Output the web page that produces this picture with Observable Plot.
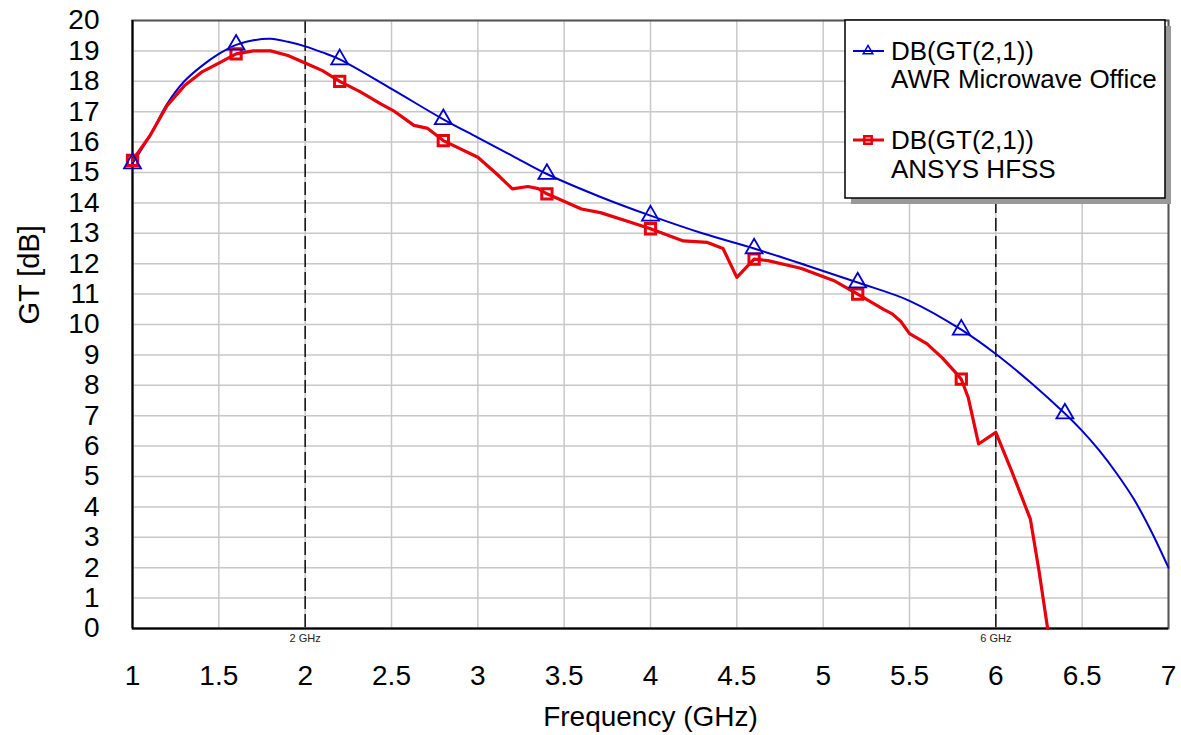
<!DOCTYPE html>
<html><head><meta charset="utf-8">
<script src="https://cdn.jsdelivr.net/npm/d3@7"></script>
<script src="https://cdn.jsdelivr.net/npm/@observablehq/plot@0.6"></script>
<style>body{margin:0;background:#fff;} svg{display:block}</style>
</head><body><div id="chart"></div>
<script>
// ---- data ----
const freqAWR = [1.0,1.1,1.2,1.3,1.4,1.5,1.6,1.7,1.8,1.9,2.0,2.1,2.2,2.5,2.8,3.0,3.2,3.4,3.7,4.0,4.3,4.6,4.9,5.2,5.5,5.8,6.0,6.2,6.4,6.5,6.6,6.7,6.8,6.9,7.0];
const gtAWR   = [15.3,16.2,17.25,18.0,18.5,18.9,19.2,19.35,19.4,19.3,19.15,18.95,18.72,17.75,16.75,16.15,15.55,14.95,14.22,13.58,13.0,12.5,11.95,11.38,10.78,9.83,9.03,8.1,7.07,6.5,5.85,5.1,4.25,3.2,2.0];
const freqHFSS = [1.0,1.1,1.2,1.3,1.4,1.5,1.6,1.7,1.8,1.9,2.0,2.1,2.2,2.32,2.44,2.52,2.63,2.71,2.8,3.0,3.11,3.2,3.29,3.35,3.4,3.6,3.71,3.88,4.0,4.19,4.33,4.42,4.5,4.6,4.68,4.87,5.06,5.2,5.35,5.4,5.45,5.5,5.6,5.69,5.77,5.8,5.84,5.9,6.0,6.09,6.2,6.25,6.3];
const gtHFSS   = [15.4,16.2,17.2,17.85,18.3,18.6,18.9,19.0,19.0,18.85,18.6,18.35,18.0,17.65,17.25,17.0,16.55,16.45,16.05,15.5,14.95,14.46,14.54,14.47,14.3,13.8,13.68,13.37,13.15,12.75,12.7,12.5,11.55,12.15,12.1,11.85,11.45,11.0,10.5,10.35,10.1,9.7,9.37,8.9,8.4,8.2,7.6,6.07,6.45,5.2,3.6,1.9,0];
const markerFreqAWR  = [1.0,1.6,2.2,2.8,3.4,4.0,4.6,5.2,5.8,6.4];
const markerFreqHFSS = [1.0,1.6,2.2,2.8,3.4,4.0,4.6,5.2,5.8];
const xTicks = [1,1.5,2,2.5,3,3.5,4,4.5,5,5.5,6,6.5,7];
const yTicks = d3.range(0, 21, 1);
const markerLines = [2, 6];
const legendLabels = [["DB(GT(2,1))","AWR Microwave Office"],["DB(GT(2,1))","ANSYS HFSS"]];
const BLUE = "#0000cc", RED = "#e8000a";

const awr = freqAWR.map((f,i)=>({f, g: gtAWR[i]}));
const hfss = freqHFSS.map((f,i)=>({f, g: gtHFSS[i]}));
const awrM = awr.filter(d => markerFreqAWR.includes(d.f));
const hfssM = hfss.filter(d => markerFreqHFSS.includes(d.f));

const FONT = "'Liberation Sans', Arial, Helvetica, sans-serif";
const chart = Plot.plot({
  width: 1181, height: 735,
  marginLeft: 132, marginRight: 13, marginTop: 20, marginBottom: 107,
  style: {fontFamily: FONT, background: "#fff", color: "#000"},
  x: {domain: [1, 7]},
  y: {domain: [0, 20]},
  marks: [
    Plot.gridX(xTicks, {stroke: "#c8c8c8", strokeOpacity: 1, strokeWidth: 1.5}),
    Plot.gridY(yTicks, {stroke: "#c8c8c8", strokeOpacity: 1, strokeWidth: 1.5}),
    Plot.ruleX(markerLines, {stroke: "#000", strokeWidth: 1.4, strokeDasharray: "13,5"}),
    Plot.frame({stroke: "#555", strokeWidth: 2}),
    Plot.ruleX([1], {stroke: "#000", strokeWidth: 2}),
    Plot.ruleY([0], {stroke: "#000", strokeWidth: 2}),
    Plot.axisX(xTicks, {tickSize: 0, tickPadding: 37, fontSize: 28, tickFormat: d => String(d), label: null}),
    Plot.axisY(yTicks, {tickSize: 0, tickPadding: 33, fontSize: 28, tickFormat: d => String(d), label: null}),
    Plot.text(markerLines, {x: d => d, text: d => `${d} GHz`, frameAnchor: "bottom", dy: 10, fontSize: 11, lineAnchor: "middle", fill: "#222"}),
    Plot.text(["Frequency (GHz)"], {text: d => d, frameAnchor: "bottom", dy: 89, fontSize: 28, lineAnchor: "middle"}),
    Plot.text(["GT [dB]"], {text: d => d, frameAnchor: "left", dx: -103, rotate: -90, fontSize: 29, lineAnchor: "middle"}),
    Plot.line(awr, {x: "f", y: "g", stroke: BLUE, strokeWidth: 2, curve: "catmull-rom"}),
    Plot.line(hfss, {x: "f", y: "g", stroke: RED, strokeWidth: 3.2, curve: "linear"}),
    Plot.dot(hfssM, {x: "f", y: "g", symbol: "square", r: 5.8, stroke: RED, strokeWidth: 3, fill: "none"}),
    Plot.dot(awrM, {x: "f", y: "g", symbol: "triangle", r: 6.3, stroke: BLUE, strokeWidth: 1.8, fill: "none"})
  ]
});
document.getElementById("chart").appendChild(chart);

// ---- legend (inside plot area, top-right) ----
const svg = d3.select(chart);
const lg = svg.append("g").attr("font-family", FONT).attr("text-anchor", "start");
lg.append("rect").attr("x", 851).attr("y", 26).attr("width", 320).attr("height", 178).attr("fill", "#999");
lg.append("rect").attr("x", 845).attr("y", 20).attr("width", 320).attr("height", 178)
  .attr("fill", "#fff").attr("stroke", "#000").attr("stroke-width", 1.5);
const rows = [{cy: 51, color: BLUE, sym: d3.symbolTriangle, size: 40, sw: 2, msw: 1.5, b2: 88},
              {cy: 140, color: RED, sym: d3.symbolSquare, size: 55, sw: 3, msw: 2.5, b2: 178}];
rows.forEach((r, i) => {
  lg.append("line").attr("x1", 853).attr("x2", 884).attr("y1", r.cy).attr("y2", r.cy)
    .attr("stroke", r.color).attr("stroke-width", r.sw);
  lg.append("path").attr("d", d3.symbol(r.sym, r.size)()).attr("transform", `translate(868,${r.cy})`)
    .attr("fill", "none").attr("stroke", r.color).attr("stroke-width", r.msw);
  lg.append("text").attr("x", 891).attr("y", r.cy + 9).attr("font-size", 26).attr("text-anchor", "start").text(legendLabels[i][0]);
  lg.append("text").attr("x", 891).attr("y", r.b2).attr("font-size", 26).attr("text-anchor", "start").text(legendLabels[i][1]);
});
</script></body></html>
